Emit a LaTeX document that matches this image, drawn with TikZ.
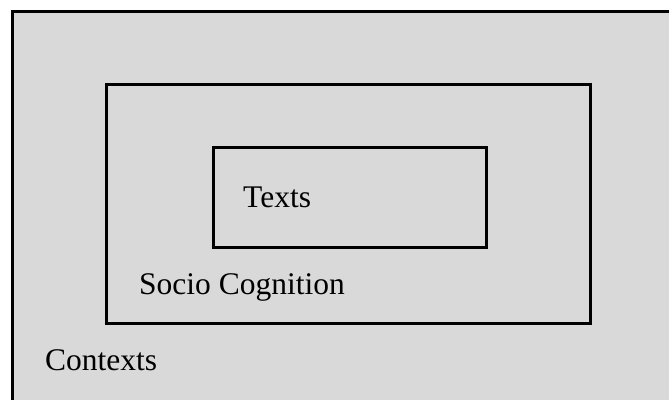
\documentclass[tikz,border=0pt]{standalone}
\usepackage{fontspec}
\setmainfont{Liberation Serif}
\definecolor{panel}{HTML}{D9D9D9}
\tikzset{
  frame/.style={draw=black, line width=3pt},
  label/.style={anchor=base west, inner sep=0pt, font=\fontsize{31.5}{36}\selectfont}
}

\begin{document}
\begin{tikzpicture}[x=1pt, y=-1pt]
  \useasboundingbox (0,0) rectangle (669,399);
  \begin{scope}
    \clip (0,0) rectangle (669,399);
    \fill[panel] (12.5,11.5) rectangle (690,420);
    \draw[frame] (12.5,420) -- (12.5,11.5) -- (690,11.5);
  \end{scope}
  % socio cognition and texts boxes
  \draw[frame] (106.5,84.5) rectangle (590.5,323.5);
  \draw[frame] (213.5,147.5) rectangle (486.5,247.5);
  \node[label] (texts) at (243,207) {Texts};
  \node[label] (socio) at (139,294) {Socio Cognition};
  \node[label] (contexts) at (45,370) {Contexts};
\end{tikzpicture}
\end{document}
